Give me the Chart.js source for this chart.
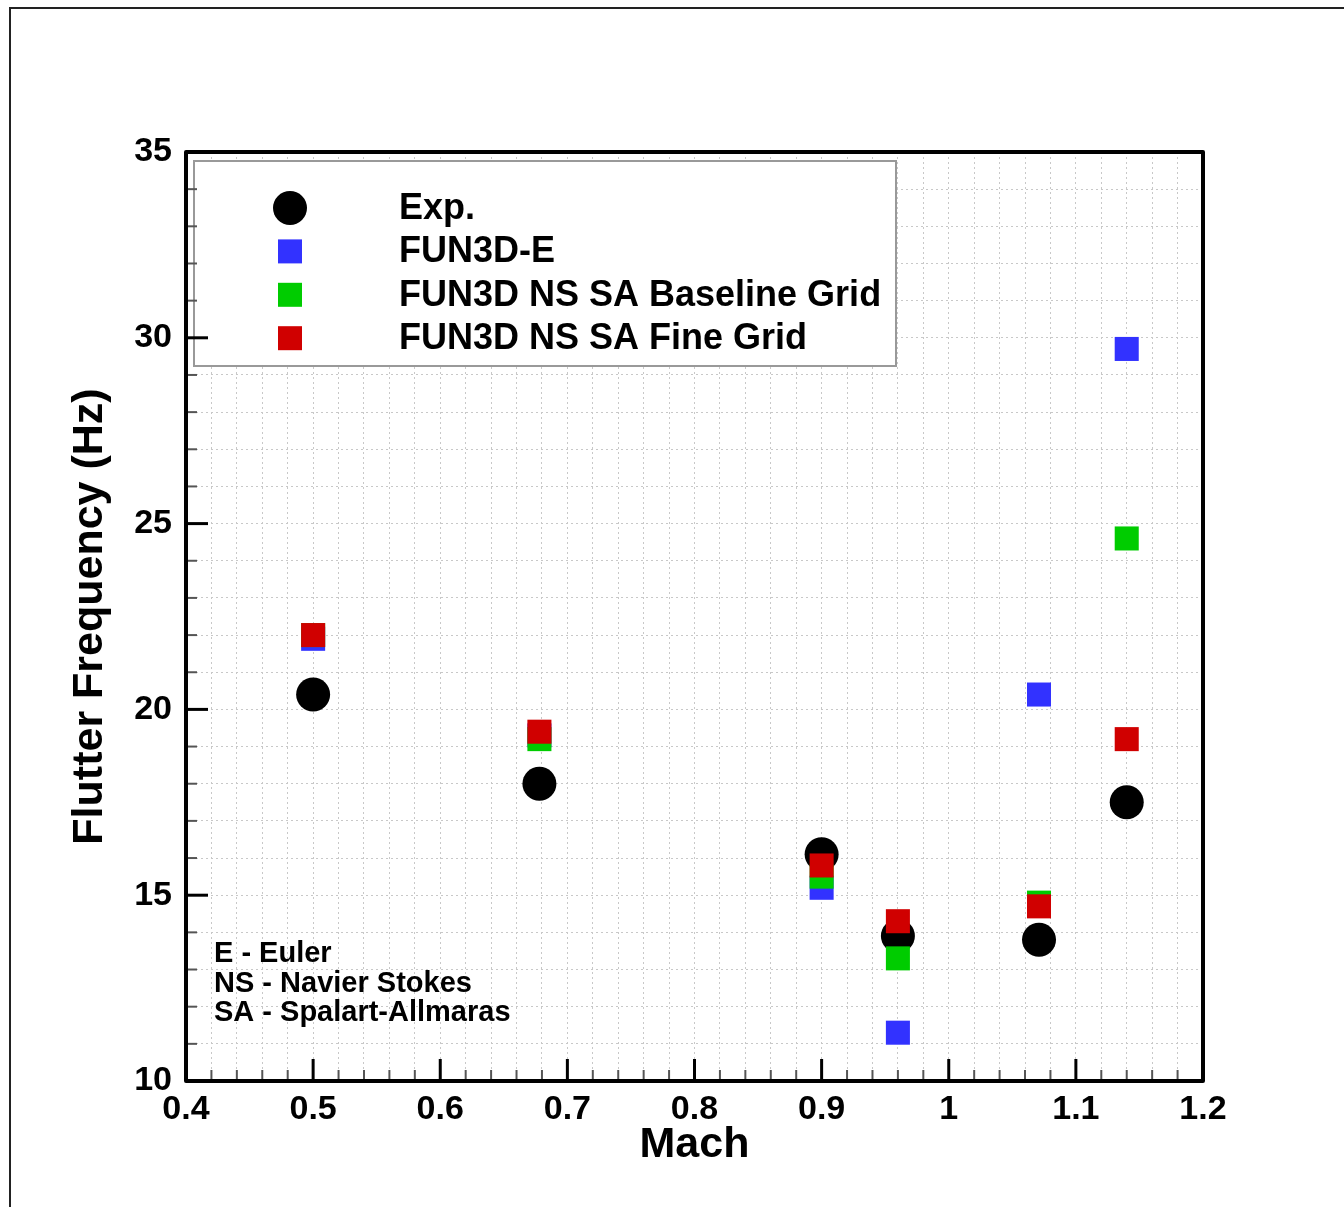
<!DOCTYPE html>
<html>
<head>
<meta charset="utf-8">
<script src="https://cdn.jsdelivr.net/npm/chart.js@4.4.1/dist/chart.umd.min.js"></script>
<style>
  body { margin: 0; background: #fff; }
  #wrap { position: relative; width: 1344px; height: 1207px; }
  #frame { position: absolute; left: 9px; top: 7px; right: -10px; bottom: -10px;
           border-top: 2px solid #222; border-left: 2px solid #222; }
  canvas { position: absolute; left: 0; top: 0; }
</style>
</head>
<body>
<div id="wrap">
  <div id="frame"></div>
  <canvas id="myChart" width="1344" height="1207"></canvas>
</div>
<script>
// Mach numbers of the test points
const mach = [0.5, 0.678, 0.9, 0.96, 1.071, 1.14];

// flutter frequency (Hz)
const exp_vals      = [20.4, 18.0, 16.1, 13.9, 13.8, 17.5];
const euler_vals    = [21.9, 19.3, 15.2, 11.3, 20.4, 29.7];
const baseline_vals = [22.0, 19.2, 15.5, 13.3, 14.8, 24.6];
const fine_vals     = [22.0, 19.4, 15.8, 14.3, 14.7, 19.2];

const series_names = ['Exp.', 'FUN3D-E', 'FUN3D NS SA Baseline Grid', 'FUN3D NS SA Fine Grid'];

// tick labels
const x_major  = [0.4, 0.5, 0.6, 0.7, 0.8, 0.9, 1.0, 1.1, 1.2];
const x_labels = ['0.4', '0.5', '0.6', '0.7', '0.8', '0.9', '1', '1.1', '1.2'];
const y_major  = [10, 15, 20, 25, 30, 35];
const y_labels = ['10', '15', '20', '25', '30', '35'];

const notes = ['E - Euler', 'NS - Navier Stokes', 'SA - Spalart-Allmaras'];

const FONT = "'Liberation Sans', Arial, Helvetica, sans-serif";

function toPoints(vals){
    return vals.map(function(v, i){ return {x: mach[i], y: v}; });
}

function findLabel(value, majors, labels){
    for(let i = 0; i < majors.length; i += 1){
        if(Math.abs(value - majors[i]) < 1e-6) return labels[i];
    }
    return '';
}

// minor ticks every 0.02 in x and every 1 in y (gridlines)
function xTicks(scale){
    let t = [];
    for(let i = 0; i <= 40; i += 1) t.push({value: Math.round((0.4 + i * 0.02) * 1000) / 1000});
    scale.ticks = t;
}
function yTicks(scale){
    let t = [];
    for(let v = 10; v <= 35; v += 1) t.push({value: v});
    scale.ticks = t;
}

// frame, inward ticks, legend box and notes
const decorations = {
    id: 'decorations',
    beforeDatasetsDraw(chart){
        const ctx = chart.ctx;
        const area = chart.chartArea;
        // legend box inside the plot
        const bx = area.left + 8, by = area.top + 9, bw = 702, bh = 205;
        ctx.save();
        ctx.fillStyle = '#fff';
        ctx.fillRect(bx, by, bw, bh);
        ctx.strokeStyle = '#999';
        ctx.lineWidth = 2;
        ctx.strokeRect(bx, by, bw, bh);
        ctx.font = 'bold 36px ' + FONT;
        ctx.textBaseline = 'middle';
        ctx.textAlign = 'left';
        chart.data.datasets.forEach(function(ds, i){
            const cy = by + 47 + i * 43.4;
            const cx = bx + 96;
            ctx.fillStyle = ds.backgroundColor;
            if(ds.pointStyle === 'circle'){
                ctx.beginPath();
                ctx.arc(cx, cy, 17, 0, Math.PI * 2);
                ctx.fill();
            } else {
                ctx.fillRect(cx - 12, cy - 12, 24, 24);
            }
            ctx.fillStyle = '#000';
            ctx.fillText(ds.label, bx + 205, cy + 1);
        });
        // abbreviations
        ctx.font = 'bold 29px ' + FONT;
        notes.forEach(function(n, i){
            ctx.fillText(n, area.left + 28, area.bottom - 127 + i * 29.5);
        });
        ctx.restore();
    },
    afterDraw(chart){
        const ctx = chart.ctx;
        const area = chart.chartArea;
        const xs = chart.scales.x, ys = chart.scales.y;
        ctx.save();
        // ticks
        xs.ticks.forEach(function(t){
            const px = xs.getPixelForValue(t.value);
            const major = findLabel(t.value, x_major, x_labels) !== '';
            ctx.strokeStyle = major ? '#000' : '#555';
            ctx.lineWidth = major ? 3 : 2;
            ctx.beginPath();
            ctx.moveTo(px, area.bottom);
            ctx.lineTo(px, area.bottom - (major ? 22 : 11));
            ctx.stroke();
        });
        ys.ticks.forEach(function(t){
            const py = ys.getPixelForValue(t.value);
            const major = findLabel(t.value, y_major, y_labels) !== '';
            ctx.strokeStyle = major ? '#000' : '#555';
            ctx.lineWidth = major ? 3 : 2;
            ctx.beginPath();
            ctx.moveTo(area.left, py);
            ctx.lineTo(area.left + (major ? 22 : 11), py);
            ctx.stroke();
        });
        // frame
        ctx.strokeStyle = '#000';
        ctx.lineWidth = 4;
        ctx.lineJoin = 'round';
        ctx.strokeRect(area.left, area.top, area.right - area.left, area.bottom - area.top);
        ctx.restore();
    }
};

const gridOpts = {
    color: '#c8c8c8',
    lineWidth: 1,
    drawTicks: false
};

const ctx = document.getElementById('myChart').getContext('2d');
const myChart = new Chart(ctx, {
    type: 'scatter',
    data: {
        datasets: [
            {label: series_names[0], data: toPoints(exp_vals), pointStyle: 'circle',
             backgroundColor: '#000000', order: 4},
            {label: series_names[1], data: toPoints(euler_vals), pointStyle: 'rect',
             backgroundColor: '#3232ff', order: 3},
            {label: series_names[2], data: toPoints(baseline_vals), pointStyle: 'rect',
             backgroundColor: '#00cc00', order: 2},
            {label: series_names[3], data: toPoints(fine_vals), pointStyle: 'rect',
             backgroundColor: '#d00000', order: 1}
        ]
    },
    options: {
        responsive: false,
        animation: false,
        events: [],
        elements: {
            point: { radius: 17, borderWidth: 0, hoverRadius: 17 }
        },
        layout: { padding: { top: 152, right: 141, left: 0, bottom: 0 } },
        plugins: {
            legend: { display: false },
            tooltip: { enabled: false }
        },
        scales: {
            x: {
                type: 'linear',
                min: 0.4,
                max: 1.2,
                afterBuildTicks: xTicks,
                afterFit: function(s){ s.height = 126; },
                grid: gridOpts,
                border: { display: false, dash: [2, 3] },
                ticks: {
                    autoSkip: false,
                    maxRotation: 0,
                    padding: 8,
                    color: '#000',
                    font: { family: FONT, size: 34, weight: 'bold' },
                    callback: function(v){ return findLabel(v, x_major, x_labels); }
                },
                title: {
                    display: true,
                    text: 'Mach',
                    color: '#000',
                    font: { family: FONT, size: 43, weight: 'bold' },
                    padding: { top: 0, bottom: 36 }
                }
            },
            y: {
                type: 'linear',
                min: 10,
                max: 35,
                afterBuildTicks: yTicks,
                afterFit: function(s){ s.width = 186; },
                grid: gridOpts,
                border: { display: false, dash: [2, 3] },
                ticks: {
                    autoSkip: false,
                    padding: 14,
                    color: '#000',
                    font: { family: FONT, size: 34, weight: 'bold' },
                    callback: function(v){ return findLabel(v, y_major, y_labels); }
                },
                title: {
                    display: true,
                    text: 'Flutter Frequency (Hz)',
                    color: '#000',
                    font: { family: FONT, size: 43, weight: 'bold' },
                    padding: { top: 64, bottom: 0 }
                }
            }
        }
    },
    plugins: [decorations]
});
</script>
</body>
</html>
